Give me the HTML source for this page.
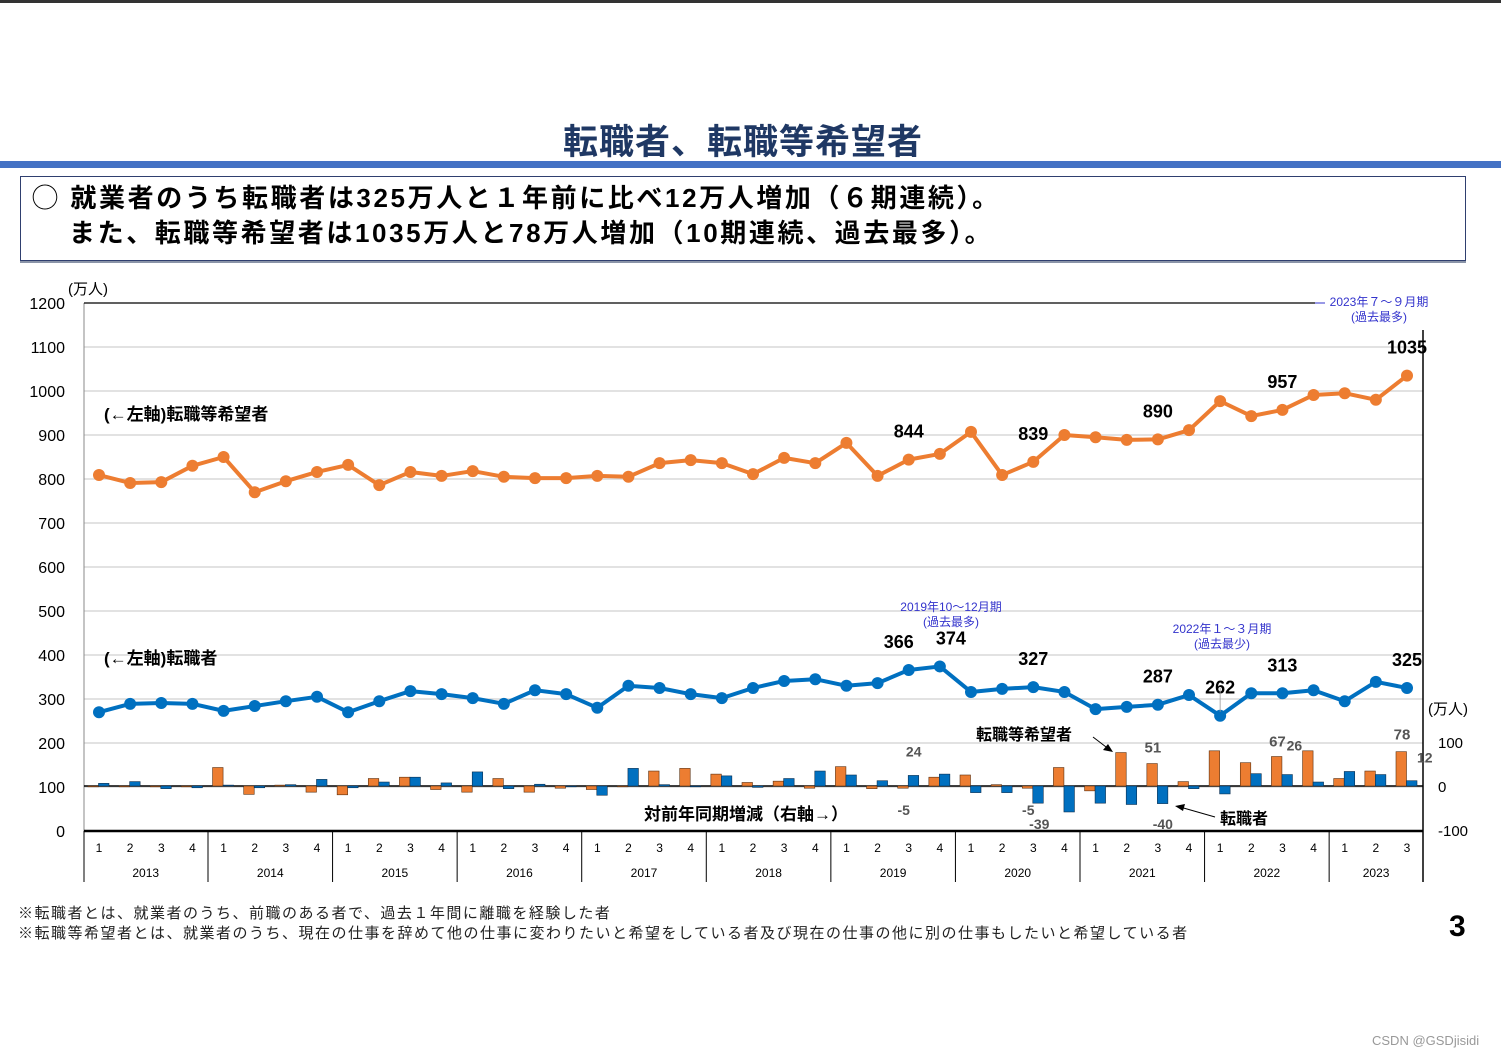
<!DOCTYPE html>
<html><head><meta charset="utf-8">
<style>
html,body{margin:0;padding:0;background:#fff;}
body{width:1501px;height:1058px;position:relative;overflow:hidden;font-family:"Liberation Sans","Noto Sans CJK JP",sans-serif;}
svg text{font-family:"Liberation Sans","Noto Sans CJK JP",sans-serif;}
</style></head>
<body>
<div style="position:absolute;left:0;top:0;width:1501px;height:3px;background:#333;"></div>
<div style="position:absolute;left:0;top:114px;width:1486px;text-align:center;font-size:35px;font-weight:bold;color:#1f3864;letter-spacing:1px;">転職者、転職等希望者</div>
<div style="position:absolute;left:0;top:161px;width:1501px;height:7px;background:#4472c4;"></div>
<div style="position:absolute;left:20px;top:176px;width:1444px;height:83px;border:1px solid #2f3f6f;box-shadow:0 2px 0 #8a94a8;font-size:26px;font-weight:bold;color:#000;line-height:35px;letter-spacing:2.6px;">
<div style="position:absolute;left:11px;top:4px;white-space:nowrap;">◯ 就業者のうち転職者は325万人と１年前に比べ12万人増加（６期連続）。</div>
<div style="position:absolute;left:48px;top:39px;white-space:nowrap;">また、転職等希望者は1035万人と78万人増加（10期連続、過去最多）。</div>
</div>
<svg id="chart" width="1501" height="1058" style="position:absolute;left:0;top:0;"></svg>
<div style="position:absolute;left:18px;top:902px;font-size:15px;color:#222;white-space:nowrap;letter-spacing:1.5px;">※転職者とは、就業者のうち、前職のある者で、過去１年間に離職を経験した者</div>
<div style="position:absolute;left:18px;top:922px;font-size:15px;color:#222;white-space:nowrap;letter-spacing:1.5px;">※転職等希望者とは、就業者のうち、現在の仕事を辞めて他の仕事に変わりたいと希望をしている者及び現在の仕事の他に別の仕事もしたいと希望している者</div>
<div style="position:absolute;left:1449px;top:910px;font-size:30px;font-weight:bold;color:#000;">3</div>
<div style="position:absolute;left:1372px;top:1033px;font-size:13px;color:#999;">CSDN @GSDjisidi</div>
<script>
const years = ['2013','2014','2015','2016','2017','2018','2019','2020','2021','2022','2023'];
const quartersPerYear = [4,4,4,4,4,4,4,4,4,4,3];
const hopeful = [809,791,793,830,850,770,795,816,832,786,816,807,818,805,802,802,807,805,836,843,836,811,848,836,882,807,844,857,907,809,839,900,895,889,890,911,977,943,957,991,995,980,1035];
const changers = [270,289,291,289,273,284,295,305,270,295,318,311,302,289,320,311,280,330,325,311,302,325,341,345,330,336,366,374,316,323,327,316,277,282,287,309,262,313,313,320,295,339,325];
const hopefulDiff = [0,0,0,0,42,-19,2,-14,-20,17,20,-8,-14,17,-14,-5,-8,0,34,40,27,8,11,-5,44,-6,-5,20,25,3,-5,42,-11,76,51,10,80,53,67,80,17,34,78];
const changersDiff = [6,10,-6,-4,2,-4,3,15,-4,9,20,7,32,-6,4,0,-21,40,3,0,23,-3,17,34,25,12,24,27,-15,-15,-39,-59,-39,-42,-40,-6,-18,28,26,9,33,26,12];
const leftTicks = [0,100,200,300,400,500,600,700,800,900,1000,1100,1200];
const rightTicks = [100,0,-100];
const hopefulLabels = {26:'844',30:'839',34:'890',38:'957',42:'1035'};
const changerLabels = {26:'366',27:'374',30:'327',34:'287',36:'262',38:'313',42:'325'};
const diffLabels = [[26,'h','-5'],[26,'c','24'],[30,'h','-5'],[30,'c','-39'],[34,'h','51'],[34,'c','-40'],[38,'h','67'],[38,'c','26'],[42,'h','78'],[42,'c','12']];

const svg = document.getElementById('chart');
const NS = 'http://www.w3.org/2000/svg';
const X0 = 84, X1 = 1423, Y0 = 831, YTOP = 303;
function yL(v){ return Y0 - (v/1200)*(Y0-YTOP); }
function yR(v){ return 786 - v*0.44; }
function xQ(i){ return 99 + i*(1407-99)/42; }
function el(tag, attrs, parent){
  const e = document.createElementNS(NS, tag);
  for (const k in attrs) e.setAttribute(k, attrs[k]);
  (parent||svg).appendChild(e);
  return e;
}
function txt(s, x, y, size, opts, parent){
  const t = el('text', Object.assign({x:x, y:y, 'font-size':size}, opts||{}), parent);
  t.textContent = s;
  return t;
}
const grid = el('g', {});


leftTicks.forEach(v => {
  if (v === 0 || v === 1200) return;
  el('line', {x1:X0, x2:X1, y1:yL(v), y2:yL(v), stroke:'#d9d9d9', 'stroke-width':1.5}, grid);
});
const yAxis = el('g', {});


leftTicks.forEach(v => {
  txt(String(v), 65, yL(v)+6, 16, {'text-anchor':'end', fill:'#000'}, yAxis);
});
txt('(万人)', 68, 294, 15, {fill:'#000'}, yAxis);
el('line', {x1:X0, x2:X0, y1:YTOP, y2:Y0, stroke:'#888', 'stroke-width':1}, yAxis);
el('line', {x1:X0, x2:1315, y1:YTOP, y2:YTOP, stroke:'#000', 'stroke-width':1.2}, yAxis);
el('line', {x1:1315, x2:1325, y1:YTOP, y2:YTOP, stroke:'#3333cc', 'stroke-width':1}, yAxis);
const rAxis = el('g', {});


el('line', {x1:X1, x2:X1, y1:330, y2:882, stroke:'#000', 'stroke-width':1.5}, rAxis);
rightTicks.forEach(v => {
  txt(String(v), 1438, yR(v)+6, 15, {fill:'#000'}, rAxis);
});
txt('(万人)', 1428, 714, 15, {fill:'#000'}, rAxis);
const xAxis = el('g', {});


el('line', {x1:X0, x2:X1, y1:Y0, y2:Y0, stroke:'#000', 'stroke-width':2.5}, xAxis);
el('line', {x1:X0, x2:X0, y1:Y0, y2:882, stroke:'#000', 'stroke-width':1}, xAxis);
let qi = 0;
years.forEach((yr, k) => {
  const n = quartersPerYear[k];
  const start = qi;
  for (let q=0; q<n; q++){
    txt(String(q+1), xQ(qi), 852, 12, {'text-anchor':'middle', fill:'#000'}, xAxis);
    qi++;
  }
  const xs = xQ(start) - 15.57, xe = (k === years.length-1) ? X1 : xQ(qi-1) + 15.57;
  txt(yr, (xs+xe)/2, 877, 12, {'text-anchor':'middle', fill:'#000'}, xAxis);
  el('line', {x1:xe, x2:xe, y1:Y0, y2:882, stroke:'#000', 'stroke-width':1}, xAxis);
});
const bars = el('g', {});


el('line', {x1:X0, x2:X1, y1:yR(0), y2:yR(0), stroke:'#000', 'stroke-width':1.5}, bars);
hopefulDiff.forEach((v,i) => {
  const y = Math.min(yR(0), yR(v)), h = Math.max(Math.abs(yR(v)-yR(0)), 0.8);
  const r = el('rect', {x:xQ(i)-11, y:y, width:10.5, height:h, fill:'#ed7d31', stroke:'#5a3010', 'stroke-width':0.6}, bars);
  
  
});
changersDiff.forEach((v,i) => {
  const y = Math.min(yR(0), yR(v)), h = Math.max(Math.abs(yR(v)-yR(0)), 0.8);
  const r = el('rect', {x:xQ(i)-0.5, y:y, width:10.5, height:h, fill:'#0070c0', stroke:'#0b2e4f', 'stroke-width':0.6}, bars);
  
  
});
diffLabels.forEach(d => {
  const i = d[0], v = d[1]==='h' ? hopefulDiff[i] : changersDiff[i];
  const o = {'text-anchor':'middle', fill:'#555','font-weight':'bold'};
  if (i===38 && d[1]==='c') { txt(d[2], xQ(i)+12, yR(v)-24, 14, o, bars); return; }
  if (i===42 && d[1]==='c') { txt(d[2], xQ(i)+10, yR(v)-18, 14, {'text-anchor':'start', fill:'#555','font-weight':'bold'}, bars); return; }
  if (i===42 && d[1]==='h') { txt(d[2], xQ(i)-5, yR(v)-12, 15, o, bars); return; }
  if (i===38 && d[1]==='h') { txt(d[2], xQ(i)-5, yR(v)-10, 15, o, bars); return; }
  if (i===34 && d[1]==='h') { txt(d[2], xQ(i)-5, yR(v)-11, 15, o, bars); return; }
  if (i===26 && d[1]==='c') { txt(d[2], xQ(i)+5, yR(v)-19, 14, o, bars); return; }
  if (i===26 && d[1]==='h') { txt(d[2], xQ(i)-5, yR(0)+29, 14, o, bars); return; }
  if (i===30 && d[1]==='h') { txt(d[2], xQ(i)-5, yR(0)+29, 14, o, bars); return; }
  if (i===30 && d[1]==='c') { txt(d[2], xQ(i)+6, yR(0)+43, 14, o, bars); return; }
  if (i===34 && d[1]==='c') { txt(d[2], xQ(i)+5, yR(0)+43, 14, o, bars); return; }
});
txt('対前年同期増減（右軸→）', 644, 820, 17, {fill:'#000','font-weight':'bold'}, bars);
txt('転職等希望者', 976, 740, 16, {fill:'#000','font-weight':'bold'}, bars);
el('line', {x1:1093, x2:1110, y1:737, y2:750, stroke:'#000', 'stroke-width':1}, bars);
el('polygon', {points:'1113,752 1103,750 1108,744', fill:'#000'}, bars);
txt('転職者', 1220, 824, 16, {fill:'#000','font-weight':'bold'}, bars);
el('line', {x1:1215, x2:1180, y1:817, y2:807, stroke:'#000', 'stroke-width':1}, bars);
el('polygon', {points:'1175,806 1185,804 1183,811', fill:'#000'}, bars);
const labelDx = {'c26':-10, 'c27':11};
function drawLine(data, color, name, labels, key){
  const g = el('g', {});
  
  
  const pts = data.map((v,i) => xQ(i)+','+yL(v)).join(' ');
  el('polyline', {points:pts, fill:'none', stroke:color, 'stroke-width':4, 'stroke-linejoin':'round'}, g);
  data.forEach((v,i) => {
    const c = el('circle', {cx:xQ(i), cy:yL(v), r:6, fill:color}, g);
    
    
  });
  for (const k in labels){
    const i = +k;
    const dx = labelDx[key+k] || 0;
    txt(labels[k], xQ(i)+dx, yL(data[i]) - 22, 18, {'text-anchor':'middle', fill:'#000', 'font-weight':'bold'}, g);
  }
  return g;
}
drawLine(hopeful, '#ed7d31', 'hopeful-line', hopefulLabels, 'h');
drawLine(changers, '#0070c0', 'changers-line', changerLabels, 'c');
el('line', {x1:xQ(36), x2:xQ(36), y1:yL(262)-28, y2:yL(262)-4, stroke:'#999', 'stroke-width':0.8});
const s1 = txt('(←左軸)転職等希望者', 104, 420, 17, {fill:'#000','font-weight':'bold'});


const s2 = txt('(←左軸)転職者', 104, 664, 17, {fill:'#000','font-weight':'bold'});


const ann = el('g', {});


txt('2023年７～９月期', 1379, 306, 12, {'text-anchor':'middle', fill:'#3333cc'}, ann);
txt('(過去最多)', 1379, 321, 12, {'text-anchor':'middle', fill:'#3333cc'}, ann);
txt('2019年10～12月期', 951, 611, 12, {'text-anchor':'middle', fill:'#3333cc'}, ann);
txt('(過去最多)', 951, 626, 12, {'text-anchor':'middle', fill:'#3333cc'}, ann);
txt('2022年１～３月期', 1222, 633, 12, {'text-anchor':'middle', fill:'#3333cc'}, ann);
txt('(過去最少)', 1222, 648, 12, {'text-anchor':'middle', fill:'#3333cc'}, ann);
</script>
</body></html>
